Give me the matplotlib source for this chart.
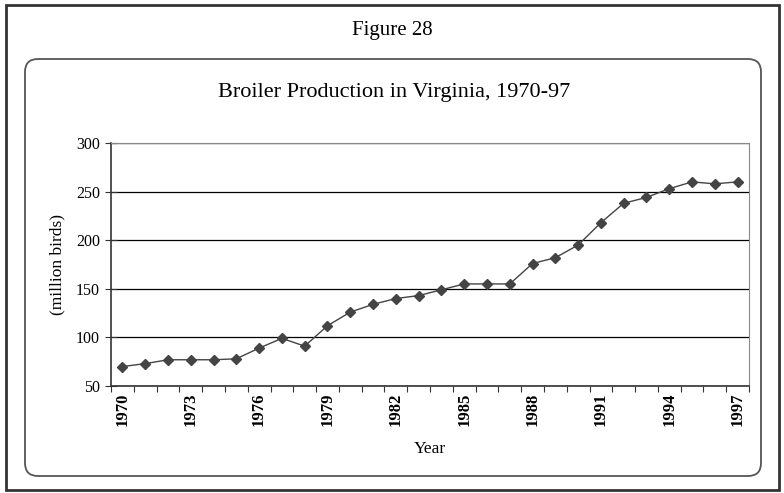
import matplotlib.pyplot as plt
from matplotlib.patches import FancyBboxPatch, Rectangle

years = list(range(1970, 1998))
birds = [70, 73, 77, 77, 77, 78, 89, 99, 91, 112, 126, 134, 140, 143, 149,
         155, 155, 155, 176, 182, 195, 218, 238, 244, 253, 260, 258, 260]
yticks = [50, 100, 150, 200, 250, 300]

plt.rcParams["font.family"] = ["Liberation Serif", "DejaVu Serif"]

fig = plt.figure(figsize=(7.84, 4.93), dpi=100)
W, H = 784, 493

# background layer in pixel units for the frame and rounded box
bg = fig.add_axes([0, 0, 1, 1])
bg.set_xlim(0, W)
bg.set_ylim(H, 0)
bg.axis("off")
bg.add_patch(Rectangle((6, 5), 773, 485, fill=False, edgecolor="#333333", linewidth=2))
bg.add_patch(FancyBboxPatch((25, 59), 736, 417,
                            boxstyle="round,pad=0,rounding_size=13",
                            fill=False, edgecolor="#555555", linewidth=1.3))
bg.text(392, 30, "Figure 28", ha="center", va="center", fontsize=15)
bg.text(394, 92, "Broiler Production in Virginia, 1970-97",
        ha="center", va="center", fontsize=16)

ax = fig.add_axes([111 / W, 1 - 386 / H, (749 - 111) / W, (386 - 143) / H])
x = list(range(len(years)))
ax.plot(x, birds, color="#444444", linewidth=1, marker="D", markersize=5.5,
        markerfacecolor="#444444", markeredgecolor="#444444")

ax.set_xlim(-0.5, len(years) - 0.5)
ax.set_ylim(50, 300)
ax.set_yticks(yticks)
ax.set_yticklabels([str(v) for v in yticks], fontsize=11.5)
ax.yaxis.grid(True, color="black", linewidth=0.9)
ax.set_axisbelow(True)

ax.set_xticks([i - 0.5 for i in range(len(years) + 1)], minor=False)
ax.set_xticklabels([])
ax.set_xticks(x[::3], minor=True)
ax.set_xticklabels([str(y) for y in years[::3]], minor=True, rotation=90,
                   fontsize=12, fontweight="bold")
ax.tick_params(axis="x", which="minor", length=0, pad=5)
ax.tick_params(axis="x", which="major", length=4, direction="out", color="#333333")
ax.tick_params(axis="y", length=8, direction="inout", color="#333333", pad=4)

for side in ["top", "right"]:
    ax.spines[side].set_color("#888888")
for side in ["left", "bottom"]:
    ax.spines[side].set_color("#333333")
    ax.spines[side].set_linewidth(1.2)

ax.set_ylabel("(million birds)", fontsize=12.5)
ax.set_xlabel("Year", fontsize=12.5)
ax.yaxis.set_label_coords(-0.072, 0.5)
ax.xaxis.set_label_coords(0.5, -0.225)

fig.savefig("out.png", dpi=100)
